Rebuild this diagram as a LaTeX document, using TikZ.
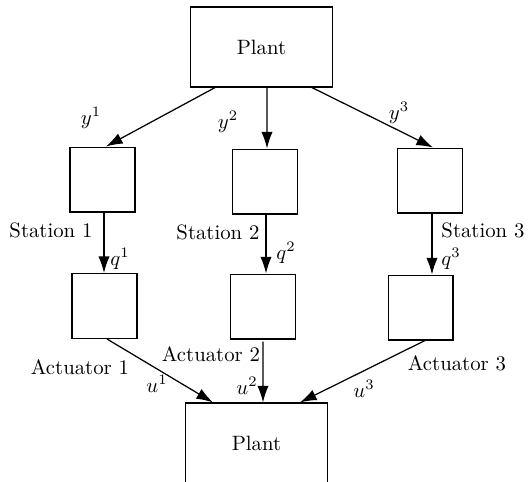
\documentclass[tikz,border=0pt]{standalone}
\usetikzlibrary{arrows.meta,calc}
\begin{document}
\begin{tikzpicture}[x=0.4818pt,y=-0.4818pt,
  plantbox/.style={draw,line width=0.6pt,inner sep=0pt,minimum width=68.5pt,minimum height=38.5pt},
  smallbox/.style={draw,line width=0.6pt,inner sep=0pt,minimum width=31.2pt,minimum height=31.2pt},
  flow/.style={-{Latex[length=8pt,width=5.4pt]},line width=0.6pt},
  lbl/.style={inner sep=0pt}]
\useasboundingbox (0,0) rectangle (530,481);

% plant (outputs) and plant (inputs)
\node[plantbox] (P1) at (261.5,47) {Plant};
\node[plantbox] (P2) at (256.5,443) {Plant};

% stations
\node[smallbox] (S1) at (102.5,179.5) {};
\node[smallbox] (S2) at (265,181.5) {};
\node[smallbox] (S3) at (430,180.5) {};

% actuators
\node[smallbox] (A1) at (104.5,306) {};
\node[smallbox] (A2) at (263,306.5) {};
\node[smallbox] (A3) at (420.5,307.5) {};

% measurements y^i
\draw[flow] ($(P1.south)+(-46.5,0)$) -- ($(S1.north)+(3.5,0)$);
\draw[flow] ($(P1.south)+(5.5,0)$) -- ($(S2.north)+(2,0)$);
\draw[flow] ($(P1.south)+(50.5,0)$) -- ($(S3.north)+(3,0)$);

% transmitted signals q^i
\coordinate (s1o) at ($(S1.south)+(1.5,0)$);
\coordinate (s2o) at ($(S2.south)+(1,0)$);
\coordinate (s3o) at ($(S3.south)+(2,0)$);
\draw[flow] (s1o) -- (s1o |- A1.north);
\draw[flow] (s2o) -- (s2o |- A2.north);
\draw[flow] (s3o) -- (s3o |- A3.north);

% control inputs u^i
\draw[flow] ($(A1.south)+(2.5,0)$) -- ($(P2.north)+(-43.5,0)$);
\draw[flow] ($(A2.south)+(0,2)$) -- ($(P2.north)+(6.5,0)$);
\draw[flow] ($(A3.south)+(4.5,0)$) -- ($(P2.north)+(43.5,0)$);

% labels
\node[lbl] (ly1) at (91,118) {$y^1$};
\node[lbl] (ly2) at (228,122) {$y^2$};
\node[lbl] (ly3) at (399,113) {$y^3$};

\node[lbl] (ls1) at (51,230) {Station 1};
\node[lbl] (ls2) at (218,232) {Station 2};
\node[lbl] (ls3) at (483,230) {Station 3};

\node[lbl] (lq1) at (120,259) {$q^1$};
\node[lbl] (lq2) at (286,253) {$q^2$};
\node[lbl] (lq3) at (451,259) {$q^3$};

\node[lbl] (la1) at (80,367) {Actuator 1};
\node[lbl] (la2) at (211,354) {Actuator 2};
\node[lbl] (la3) at (457,363) {Actuator 3};

\node[lbl] (lu1) at (157,384) {$u^1$};
\node[lbl] (lu2) at (247,386) {$u^2$};
\node[lbl] (lu3) at (364,389) {$u^3$};
\end{tikzpicture}
\end{document}
